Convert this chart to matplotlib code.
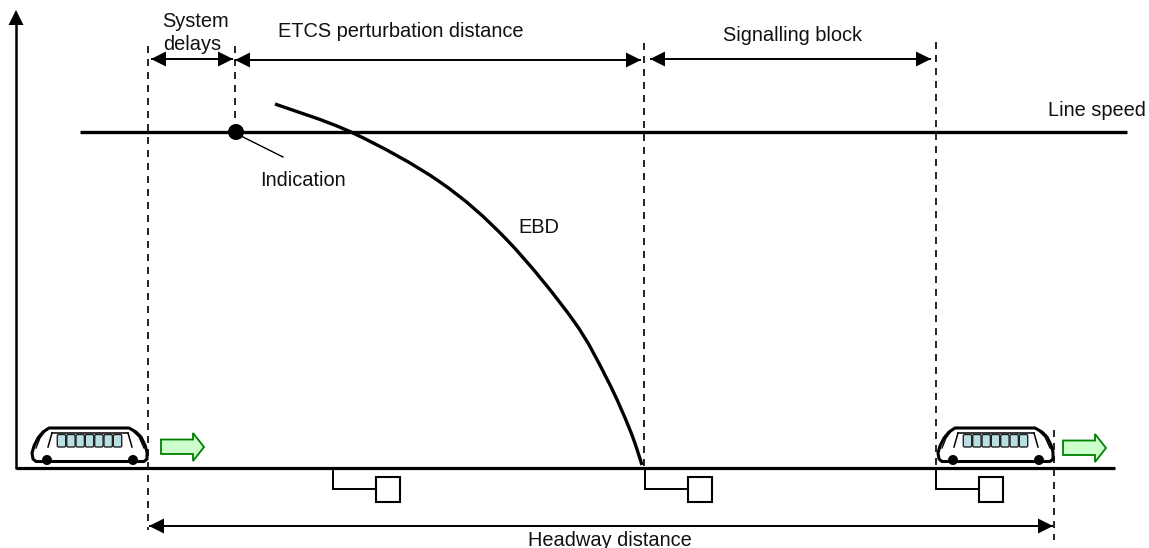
import matplotlib
matplotlib.use("Agg")
import matplotlib.pyplot as plt
from matplotlib.patches import Polygon, Rectangle, FancyBboxPatch, Circle, PathPatch
from matplotlib.path import Path

plt.rcParams['font.family'] = ['Liberation Sans', 'DejaVu Sans']

W, H = 1149, 548
# Diagram data, in reference pixels
ebd_x = [275, 353, 440, 507, 573, 607, 630, 642]
ebd_y = [104, 133, 182, 240, 320, 379, 430, 465]
ground_y = 468
line_speed_y = 132
dash_x = [148, 235, 644, 936, 1054]
dash_top = [46, 46, 43, 42, 430]
dash_bottom = [530, 120, 466, 466, 540]
top_dims = [(151, 233, 59), (235, 641, 60), (650, 931, 59)]
headway_dim = (149, 1053, 526)
block_x = [333, 645, 936]
train_offsets = [0, 906]
green_x = [161, 1063]
green_y = [447, 448]
labels = [
    (162, 27, "System"), (163, 50, "delays"), (278, 37, "ETCS perturbation distance"),
    (723, 41, "Signalling block"), (1048, 116, "Line speed"),
    (260, 186, "Indication"), (518, 233, "EBD"), (528, 546, "Headway distance"),
]
train_outline = [(33, 459), (32, 453), (34, 446), (38, 438), (43, 432), (49, 428), (129, 428),
                 (136, 432), (141, 437), (145, 445), (147, 452), (147, 459), (144, 461.5), (36, 461.5)]
win_x = [57, 66.4, 75.7, 85, 94.4, 103.7, 113]

fig = plt.figure(figsize=(W / 100, H / 100), dpi=100)
ax = fig.add_axes([0, 0, 1, 1])
ax.set_xlim(0, W); ax.set_ylim(H, 0); ax.axis("off")


def dim(x0, x1, y, lw=1.4):
    for a, b in ((x0, x1), (x1, x0)):
        s = 1 if b > a else -1
        ax.add_patch(Polygon([(a, y), (a + s * 15, y - 7.5), (a + s * 15, y + 7.5)],
                             fc="k", ec="none", zorder=4))
    ax.plot([x0, x1], [y, y], color="k", lw=lw, solid_capstyle="butt", zorder=4)


def smooth_path(xs, ys):
    pts = list(zip(xs, ys))
    verts, codes = [pts[0]], [Path.MOVETO]
    for i in range(len(pts) - 1):
        p0 = pts[max(i - 1, 0)]
        p1, p2 = pts[i], pts[i + 1]
        p3 = pts[min(i + 2, len(pts) - 1)]
        c1 = (p1[0] + (p2[0] - p0[0]) / 6, p1[1] + (p2[1] - p0[1]) / 6)
        c2 = (p2[0] - (p3[0] - p1[0]) / 6, p2[1] - (p3[1] - p1[1]) / 6)
        verts += [c1, c2, p2]
        codes += [Path.CURVE4] * 3
    return Path(verts, codes)


# axes
ax.plot([16, 1115], [ground_y, ground_y], color="k", lw=2.3, solid_capstyle="butt", zorder=3)
ax.plot([16, 16], [ground_y + 1, 24], color="k", lw=1.8, solid_capstyle="butt", zorder=3)
ax.add_patch(Polygon([(16, 10), (8.5, 25), (23.5, 25)], fc="k", ec="none"))
ax.plot([80, 1127], [line_speed_y, line_speed_y], color="k", lw=2.4, solid_capstyle="butt", zorder=3)
ax.add_patch(PathPatch(smooth_path(ebd_x, ebd_y), fc="none", ec="k", lw=2.4, capstyle="butt", zorder=3))

for x, t, b in zip(dash_x, dash_top, dash_bottom):
    ax.plot([x, x], [t, b], color="k", lw=1.2, dashes=(4.2, 3.6), zorder=6)
for a, b, y in top_dims:
    dim(a, b, y)
dim(*headway_dim)

ax.add_patch(Circle((236, 132), 8, fc="k", ec="none", zorder=5))
ax.plot([241, 283], [136, 157], color="k", lw=1.0, zorder=4)

for x in block_x:
    ax.plot([x, x, x + 43], [ground_y + 1, 489, 489], color="k", lw=1.4, zorder=3, solid_joinstyle="miter")
    ax.add_patch(Rectangle((x + 43, 477), 24, 24.5, fc="white", ec="k", lw=1.5, zorder=3))

for off in train_offsets:
    ax.add_patch(Polygon([(x + off, y) for x, y in train_outline], closed=True, fc="white", ec="k",
                         lw=2.2, joinstyle="round", zorder=4))
    for wx in win_x:
        ax.add_patch(FancyBboxPatch((wx + off + 0.3, 434.5), 8.4, 12.5,
                                    boxstyle="round,pad=0,rounding_size=1.5",
                                    fc="#B9DFE3", ec="#222222", lw=1.0, zorder=5))
    ax.plot([36 + off, 40 + off, 46 + off], [448, 438, 430], color="k", lw=1.0, zorder=5)
    ax.plot([48 + off, 52 + off], [447, 433], color="k", lw=1.1, zorder=5)
    ax.plot([52 + off, 128 + off], [433, 433], color="k", lw=1.1, zorder=5)
    ax.plot([128 + off, 132 + off], [433, 447], color="k", lw=1.1, zorder=5)
    ax.plot([132 + off, 139 + off, 144 + off], [430, 437, 448], color="k", lw=1.0, zorder=5)
    for wx in (47, 133):
        ax.add_patch(Circle((wx + off, 460), 5, fc="k", ec="none", zorder=5))

for x, y in zip(green_x, green_y):
    ax.add_patch(Polygon([(x, y - 7.5), (x + 32, y - 7.5), (x + 32, y - 14), (x + 43, y), (x + 32, y + 14),
                          (x + 32, y + 7), (x, y + 7)], closed=True, fc="#CCFFCC", ec="#008000", lw=1.3,
                         joinstyle="miter", zorder=4))

for x, y, s in labels:
    ax.text(x, y, s, ha="left", va="baseline", fontsize=14.4, color="#111111", zorder=7)

fig.savefig("out.png", dpi=100)
